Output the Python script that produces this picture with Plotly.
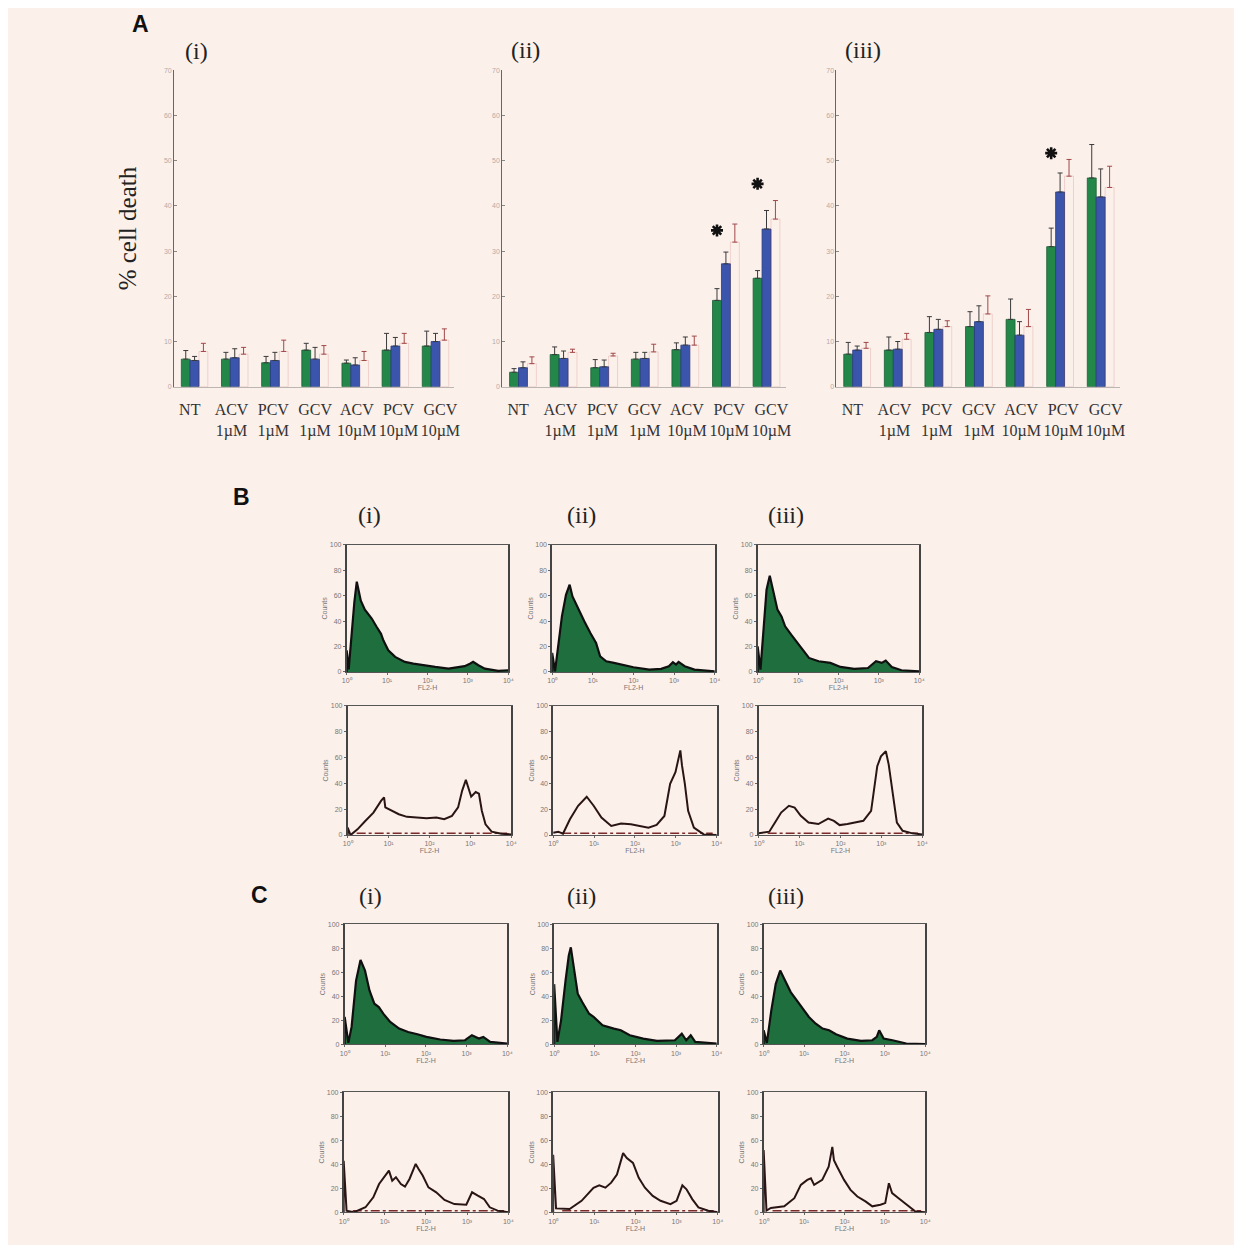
import plotly.graph_objects as go

W, H = 1242, 1245
BG = "#fcf0eb"
SERIF = "Liberation Serif, Times New Roman, serif"
SANS = "Liberation Sans, Arial, sans-serif"

# ---------------- Panel A data ----------------
categories = ["NT", "ACV<br>1µM", "PCV<br>1µM", "GCV<br>1µM", "ACV<br>10µM", "PCV<br>10µM", "GCV<br>10µM"]
panel_labels = ["(i)", "(ii)", "(iii)"]

green_i = [6.1, 6.1, 5.3, 8.1, 5.2, 8.1, 9.0]
green_i_err = [8.0, 7.6, 6.7, 9.6, 5.9, 11.8, 12.3]
blue_i = [5.8, 6.4, 5.8, 6.1, 4.8, 9.0, 10.0]
blue_i_err = [6.7, 8.4, 7.6, 8.7, 6.4, 10.9, 11.8]
red_i = [7.8, 7.2, 7.8, 7.2, 5.8, 9.6, 10.3]
red_i_err = [9.6, 8.7, 10.3, 9.1, 7.8, 11.8, 12.8]

green_ii = [3.2, 7.1, 4.2, 6.1, 8.2, 19.1, 24.0]
green_ii_err = [4.0, 8.8, 6.0, 7.6, 9.7, 21.7, 25.7]
blue_ii = [4.2, 6.25, 4.4, 6.25, 9.2, 27.2, 34.9]
blue_ii_err = [5.5, 7.9, 5.9, 7.6, 11.0, 29.8, 39.0]
red_ii = [5.1, 7.6, 6.8, 7.7, 9.2, 32.0, 37.1]
red_ii_err = [6.6, 8.3, 7.4, 9.4, 11.2, 36.0, 41.2]

green_iii = [7.2, 8.1, 12.0, 13.3, 14.9, 31.0, 46.2]
green_iii_err = [9.8, 11.0, 15.5, 16.6, 19.4, 35.1, 53.6]
blue_iii = [8.1, 8.3, 12.7, 14.4, 11.4, 43.1, 42.0]
blue_iii_err = [9.0, 10.0, 14.9, 17.9, 14.4, 47.3, 48.2]
red_iii = [8.5, 10.5, 13.3, 16.1, 13.3, 46.6, 44.1]
red_iii_err = [9.8, 11.8, 14.6, 20.1, 17.1, 50.3, 48.8]

# significance stars: (category index, y value)
star_ii_idx = [5, 6]
star_ii_y = [34.6, 44.9]
star_iii_idx = [5]
star_iii_y = [51.7]

# ---------------- Histogram data (x in decades, y in % of axis height) ----------------
hist_ticks = ["10⁰", "10¹", "10²", "10³", "10⁴"]
count_ticks = ["0", "20", "40", "60", "80", "100"]

b_top_i_x = [0, 0, 0.05, 0.12, 0.19, 0.25, 0.30, 0.35, 0.45, 0.55, 0.62, 0.74, 0.85, 0.91, 1.03, 1.2, 1.44, 1.65, 1.86, 2.19, 2.52, 2.75, 2.92, 3.05, 3.13, 3.26, 3.42, 3.75, 4.0]
b_top_i_y = [0, 17, 2, 30, 55, 71, 62, 56, 49, 45, 42, 35.5, 30, 24.7, 17, 11.8, 7.9, 6.5, 5.3, 3.9, 2.6, 3.5, 4.5, 6.5, 7.9, 5.3, 2.6, 0.8, 1.3]
b_top_ii_x = [0, 0, 0.07, 0.14, 0.24, 0.34, 0.43, 0.5, 0.65, 0.79, 0.94, 1.08, 1.18, 1.33, 1.52, 1.71, 2.0, 2.39, 2.68, 2.87, 2.97, 3.05, 3.11, 3.26, 3.5, 4.0]
b_top_ii_y = [0, 15, 0.5, 20, 43.7, 60.7, 68.6, 59.4, 49, 39.8, 30.6, 22.8, 12.3, 8.4, 7.1, 5.8, 3.7, 1.8, 2.4, 4.5, 7.6, 5.8, 7.9, 4.5, 1.8, 0.5]
b_top_iii_x = [0, 0, 0.07, 0.15, 0.22, 0.30, 0.39, 0.49, 0.59, 0.68, 0.83, 0.98, 1.12, 1.27, 1.51, 1.8, 2.05, 2.39, 2.73, 2.93, 3.07, 3.17, 3.32, 3.56, 4.0]
b_top_iii_y = [0, 20, 1.8, 33, 64.7, 75.7, 62, 49, 43.7, 35.9, 29.3, 22.8, 17.5, 11, 8.4, 7.1, 3.9, 2.4, 3.1, 8.4, 7.1, 8.9, 3.9, 1.3, 0.5]

b_bot_i_x = [0, 0, 0.07, 0.24, 0.43, 0.63, 0.82, 0.89, 0.92, 1.06, 1.25, 1.45, 1.69, 1.93, 2.17, 2.36, 2.55, 2.70, 2.80, 2.89, 3.02, 3.13, 3.21, 3.28, 3.37, 3.52, 3.76, 4.0]
b_bot_i_y = [0, 5.7, 0, 4.4, 10.9, 17.4, 26.6, 29.2, 21.4, 19.3, 16.1, 14.1, 13.5, 13.0, 13.5, 12.2, 14.8, 21.4, 34.4, 42.7, 29.7, 33.3, 32, 18.8, 8.3, 2.6, 1, 0.5]
b_bot_ii_x = [0, 0.125, 0.24, 0.41, 0.61, 0.82, 0.99, 1.18, 1.42, 1.66, 1.90, 2.14, 2.33, 2.53, 2.72, 2.86, 2.99, 3.11, 3.15, 3.22, 3.30, 3.44, 3.68, 4.0]
b_bot_ii_y = [1.8, 2.6, 1, 12.2, 22.7, 29.7, 22.7, 13.5, 7, 8.9, 8.3, 7, 5.7, 7.8, 14.8, 39.6, 48.7, 65.6, 53.9, 39.6, 18.8, 5.7, 0.5, 0]
b_bot_iii_x = [0, 0.26, 0.40, 0.55, 0.74, 0.88, 1.03, 1.22, 1.46, 1.70, 1.84, 1.98, 2.17, 2.37, 2.56, 2.75, 2.90, 2.99, 3.11, 3.18, 3.28, 3.38, 3.52, 3.76, 4.0]
b_bot_iii_y = [1.3, 2.6, 9.7, 17.4, 22.6, 21.3, 14.9, 9.7, 8.5, 12.8, 11, 7.7, 8.5, 9.7, 11, 18.7, 53.3, 61, 64.9, 54.6, 30.3, 9.7, 3.3, 1.3, 0.5]

c_top_i_x = [0, 0, 0.09, 0.17, 0.28, 0.39, 0.5, 0.61, 0.73, 0.84, 0.95, 1.12, 1.34, 1.56, 1.79, 2.01, 2.35, 2.68, 2.96, 3.13, 3.30, 3.41, 3.58, 4.0]
c_top_i_y = [0, 22.7, 1.1, 14.4, 53, 70.2, 61.3, 44.8, 33.7, 30.9, 25.4, 18.5, 13, 10.2, 8.3, 6.1, 3.9, 2.8, 3.3, 7.5, 4.7, 6.1, 1.9, 0.6]
c_top_ii_x = [0, 0, 0.08, 0.17, 0.28, 0.36, 0.41, 0.50, 0.58, 0.69, 0.86, 0.97, 1.19, 1.47, 1.64, 1.86, 2.19, 2.53, 2.97, 3.14, 3.25, 3.36, 3.47, 4.0]
c_top_ii_y = [0, 50, 1.9, 19.9, 53, 73.8, 80.7, 61.3, 42, 35.1, 25.4, 22.7, 15.7, 13, 11.6, 7.5, 4.7, 2.8, 3.3, 8.8, 3.3, 7.5, 1.9, 0.6]
c_top_iii_x = [0, 0, 0.08, 0.19, 0.30, 0.41, 0.53, 0.67, 0.82, 0.95, 1.12, 1.29, 1.46, 1.62, 1.79, 2.07, 2.41, 2.69, 2.80, 2.86, 2.97, 3.19, 3.53, 4.0]
c_top_iii_y = [0, 11.6, 1.1, 28.2, 50.3, 61.3, 53, 43.4, 36.5, 30.9, 22.7, 17.1, 13, 11.6, 8.3, 4.7, 2.8, 3.3, 6.1, 11.6, 4.7, 3.3, 0.6, 0]

c_bot_i_x = [0, 0, 0.07, 0.24, 0.53, 0.72, 0.86, 1.01, 1.10, 1.18, 1.27, 1.39, 1.49, 1.60, 1.75, 1.82, 1.92, 2.06, 2.25, 2.45, 2.69, 2.98, 3.12, 3.26, 3.41, 3.55, 3.74, 4.0]
c_bot_i_y = [0, 43, 1.4, 0, 4.2, 12.5, 23.6, 30.6, 34.7, 26.4, 29.2, 23.6, 21.4, 27.8, 40.3, 36.1, 30.6, 20.8, 16.7, 10.3, 6.9, 6.4, 16.7, 13.9, 11.1, 4.2, 1.4, 0]
c_bot_ii_x = [0, 0, 0.07, 0.40, 0.69, 0.98, 1.12, 1.27, 1.41, 1.55, 1.70, 1.79, 1.94, 2.08, 2.23, 2.42, 2.61, 2.85, 3.0, 3.14, 3.24, 3.38, 3.53, 3.77, 4.0]
c_bot_ii_y = [0, 48, 3.3, 2.7, 9.6, 20.5, 22.5, 20.5, 24.7, 31.5, 49.3, 45.2, 41.1, 28.8, 20.5, 13.7, 9.6, 6.8, 9.6, 22.5, 19.2, 11, 4.1, 1.4, 0]
c_bot_iii_x = [0, 0, 0.07, 0.18, 0.51, 0.76, 0.92, 1.08, 1.17, 1.25, 1.45, 1.61, 1.70, 1.74, 1.82, 1.99, 2.15, 2.32, 2.52, 2.69, 2.89, 3.01, 3.10, 3.18, 3.34, 3.55, 3.75, 4.0]
c_bot_iii_y = [0, 51.8, 1.4, 3.6, 5, 11.8, 22.9, 27, 28.4, 22.9, 27, 38, 54.5, 43.5, 38, 27, 18.7, 13.2, 9.1, 5, 6.3, 7.7, 24.2, 16, 11.8, 6.3, 0.8, 0]

baseline_x = [0.22, 3.9]
baseline_y = [1.3, 1.3]

# ---------------- helpers ----------------
# map positions measured on the screenshot to figure pixels (page margin + scaling)
S = 0.9936
OX, OY = 10.5, 12.6


def fx(x):
    return (x - OX) / S


def fy(y):
    return (y - OY) / S


def xd(a, b):
    return [fx(a) / W, fx(b) / W]


def yd(top, bottom):
    return [1 - fy(bottom) / H, 1 - fy(top) / H]


fig = go.Figure()
layout = {}

GREEN = "#23874a"
BLUE = "#3b55ad"
idx = list(range(len(categories)))
LABEL_STRETCH = 1.04

panels_A = [
    (green_i, green_i_err, blue_i, blue_i_err, red_i, red_i_err, (172, 453), [], []),
    (green_ii, green_ii_err, blue_ii, blue_ii_err, red_ii, red_ii_err, (501, 785), star_ii_idx, star_ii_y),
    (green_iii, green_iii_err, blue_iii, blue_iii_err, red_iii, red_iii_err, (836, 1120), star_iii_idx, star_iii_y),
]

for p, (g, ge, b, be, r, re_, (x0, x1), sidx, sy) in enumerate(panels_A):
    n = p + 1
    xa = "x" if n == 1 else f"x{n}"
    ya = "y" if n == 1 else f"y{n}"
    for vals, tops, color, line_col, lw, off, ecol in [
        (g, ge, GREEN, "#1b5e33", 0.8, -0.21, "#3a3a3a"),
        (b, be, BLUE, "#283c80", 0.8, 0.01, "#3a3a3a"),
        (r, re_, "rgba(0,0,0,0)", "rgba(168,56,56,0.28)", 0.6, 0.23, "#a04848"),
    ]:
        fig.add_trace(go.Bar(
            x=idx, y=vals, width=0.22, offset=off,
            marker=dict(color=color, line=dict(color=line_col, width=lw)),
            error_y=dict(type="data", symmetric=False,
                         array=[t - v for t, v in zip(tops, vals)],
                         arrayminus=[0] * len(vals),
                         color=ecol, thickness=1, width=2.5),
            xaxis=xa, yaxis=ya, showlegend=False, hoverinfo="skip"))
    if sidx:
        fig.add_trace(go.Scatter(
            x=[i - 0.1 for i in sidx], y=sy, mode="markers",
            marker=dict(symbol="asterisk-open", size=10, color="#111",
                        line=dict(color="#111", width=2.6)),
            xaxis=xa, yaxis=ya, showlegend=False, hoverinfo="skip"))
    layout["xaxis" if n == 1 else f"xaxis{n}"] = dict(
        domain=xd(x0, x1), range=[-0.39, 6.59], anchor=ya,
        tickvals=[k * LABEL_STRETCH for k in idx], ticktext=categories,
        tickangle=0,
        ticks="outside", ticklen=8, tickcolor="rgba(0,0,0,0)",
        tickfont=dict(family=SERIF, size=16, color="#333"),
        showline=True, linecolor="rgba(110,110,110,0.45)", linewidth=1,
        showgrid=False, zeroline=False, fixedrange=True)
    ycfg = dict(
        domain=yd(71, 387), range=[0, 70], anchor=xa,
        tickvals=[0, 10, 20, 30, 40, 50, 60, 70],
        ticks="inside", ticklen=3, tickcolor="#888",
        tickfont=dict(family=SANS, size=7, color="#b5aaa6"),
        showline=True, linecolor="#666", linewidth=1,
        showgrid=False, zeroline=False, fixedrange=True)
    if n == 1:
        ycfg["title"] = dict(text="% cell death",
                             font=dict(family=SERIF, size=25, color="#222"), standoff=20)
    layout["yaxis" if n == 1 else f"yaxis{n}"] = ycfg

# ---------------- histograms ----------------
hist_rows = [
    (545, 672, [(345, 507), (551, 714), (757, 919)],
     [(b_top_i_x, b_top_i_y), (b_top_ii_x, b_top_ii_y), (b_top_iii_x, b_top_iii_y)], True),
    (706, 835, [(346, 510), (552, 716), (758, 922)],
     [(b_bot_i_x, b_bot_i_y), (b_bot_ii_x, b_bot_ii_y), (b_bot_iii_x, b_bot_iii_y)], False),
    (924, 1044, [(343, 506), (553, 716), (763, 925)],
     [(c_top_i_x, c_top_i_y), (c_top_ii_x, c_top_ii_y), (c_top_iii_x, c_top_iii_y)], True),
    (1092, 1212, [(342, 507), (552, 717), (763, 925)],
     [(c_bot_i_x, c_bot_i_y), (c_bot_ii_x, c_bot_ii_y), (c_bot_iii_x, c_bot_iii_y)], False),
]

n = 3
for top, bot, xs, datasets, filled in hist_rows:
    for (x0, x1), (hx, hy) in zip(xs, datasets):
        n += 1
        xa, ya = f"x{n}", f"y{n}"
        if filled:
            fig.add_trace(go.Scatter(
                x=hx, y=hy, mode="lines", fill="tozeroy",
                fillcolor="#1f6e3e", line=dict(color="#101010", width=2.2),
                xaxis=xa, yaxis=ya, showlegend=False, hoverinfo="skip"))
        else:
            fig.add_trace(go.Scatter(
                x=baseline_x, y=baseline_y, mode="lines",
                line=dict(color="#7a2a2a", width=1.5, dash="dashdot"),
                xaxis=xa, yaxis=ya, showlegend=False, hoverinfo="skip"))
            fig.add_trace(go.Scatter(
                x=hx, y=hy, mode="lines",
                line=dict(color="#2a1515", width=2.0),
                xaxis=xa, yaxis=ya, showlegend=False, hoverinfo="skip"))
        layout[f"xaxis{n}"] = dict(
            domain=xd(x0, x1), range=[0, 4], anchor=ya,
            tickvals=[0, 1, 2, 3, 4], ticktext=hist_ticks,
            ticks="outside", ticklen=2, tickcolor="#666",
            tickfont=dict(family=SANS, size=7, color="#777"),
            showline=True, linecolor="#555", linewidth=1, mirror=True,
            showgrid=False, zeroline=False, fixedrange=True,
            title=dict(text="FL2-H", font=dict(family=SANS, size=7, color="#777"), standoff=1))
        layout[f"yaxis{n}"] = dict(
            domain=yd(top, bot), range=[0, 100], anchor=xa,
            tickvals=[0, 20, 40, 60, 80, 100], ticktext=count_ticks,
            ticks="outside", ticklen=2, tickcolor="#666",
            tickfont=dict(family=SANS, size=7, color="#777"),
            showline=True, linecolor="#444", linewidth=1.5, mirror=True,
            showgrid=False, zeroline=False, fixedrange=True,
            title=dict(text="Counts", font=dict(family=SANS, size=7, color="#777"), standoff=1))

# ---------------- text labels ----------------
annotations = []
for txt, x, y in [("A", 138, 25), ("B", 240, 497), ("C", 258, 895)]:
    annotations.append(dict(text="<b>" + txt + "</b>", x=fx(x) / W, y=1 - fy(y) / H,
                            xref="paper", yref="paper",
                            showarrow=False, xanchor="center", yanchor="middle",
                            font=dict(family=SANS, size=23, color="#111")))
sub_pos = [
    [(194, 52), (524, 51), (863, 51)],
    [(368, 515), (580, 515), (785, 515)],
    [(369, 896), (580, 896), (785, 896)],
]
for row in sub_pos:
    for lab, (x, y) in zip(panel_labels, row):
        annotations.append(dict(text=lab, x=fx(x) / W, y=1 - fy(y) / H,
                                xref="paper", yref="paper",
                                showarrow=False, xanchor="center", yanchor="middle",
                                font=dict(family=SERIF, size=24, color="#222")))

fig.update_layout(
    width=W, height=H, autosize=False,
    margin=dict(l=0, r=0, t=0, b=0),
    paper_bgcolor=BG, plot_bgcolor=BG,
    barmode="overlay", showlegend=False,
    annotations=annotations,
    **layout,
)

fig.write_html("out.html")
